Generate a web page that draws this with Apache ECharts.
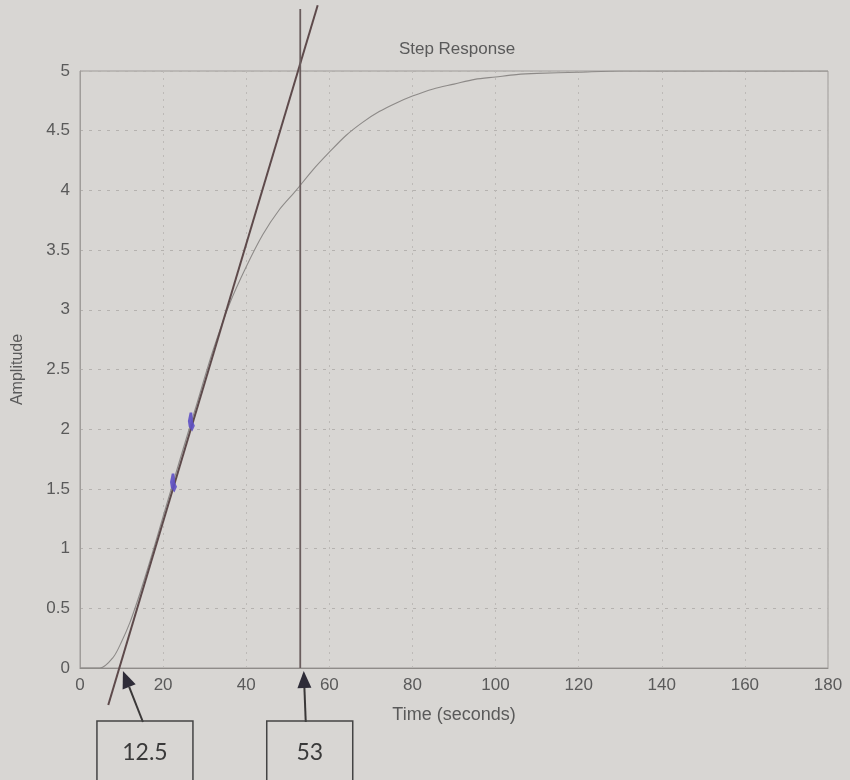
<!DOCTYPE html>
<html>
<head>
<meta charset="utf-8">
<script src="https://cdn.jsdelivr.net/npm/echarts@6/dist/echarts.min.js"></script>
<style>
html,body{margin:0;padding:0;background:#d8d6d3;}
#c{width:850px;height:780px;}
</style>
</head>
<body>
<div id="c"></div>
<script>
// ---- data ----
var timeValues = [0, 4.8, 8, 10, 12, 14, 16, 18, 20, 24, 28, 32, 36, 40, 44, 48, 52, 56, 60, 64, 68, 72, 76, 80, 85, 90, 95, 100, 105, 110, 120, 130, 140, 160, 180];
var amplitudeValues = [0, 0, 0.09, 0.22, 0.38, 0.58, 0.8, 1.03, 1.27, 1.74, 2.2, 2.66, 3.05, 3.36, 3.63, 3.84, 4.0, 4.17, 4.32, 4.46, 4.57, 4.66, 4.73, 4.79, 4.85, 4.89, 4.93, 4.95, 4.97, 4.98, 4.99, 5, 5, 5, 5];
var tangentT = [6.8, 57.2];
var tangentY = [-0.31, 5.55];
var verticalT = [53, 53];
var verticalY = [5.52, 0];
var penMarkT = [26.8, 22.5];
var penMarkY = [2.06, 1.55];
var annotValues = [12.5, 53];
var annotLabels = ['12.5', '53'];
var xTicks = {min: 0, max: 180, interval: 20};
var yTicks = {min: 0, max: 5, interval: 0.5};

// ---- layout (pixel tweaks for annotations) ----
var annotLayout = [
  {tipDx: -9, tailDx: 11, boxDx: -35, w: 96},
  {tipDx: 3.5, tailDx: 5.5, boxDx: -33.5, w: 86}
];

function zip(a, b) { return a.map(function (v, i) { return [v, b[i]]; }); }

var chart = echarts.init(document.getElementById('c'), null, {renderer: 'canvas'});
var FONT = 'Liberation Sans, Arial, sans-serif';
var tickFont = {color: '#5a5a5a', fontSize: 17, fontFamily: FONT};

chart.setOption({
  backgroundColor: '#d8d6d3',
  animation: false,
  title: {
    text: 'Step Response',
    left: 452, top: 36, textAlign: 'center',
    textStyle: {color: '#5a5a5a', fontSize: 17, fontWeight: 'normal', fontFamily: FONT}
  },
  grid: {left: 80, right: 22, top: 71, bottom: 112, show: true, borderColor: '#9e9b98', borderWidth: 1, backgroundColor: 'transparent'},
  xAxis: {
    type: 'value', min: xTicks.min, max: xTicks.max, interval: xTicks.interval,
    name: 'Time (seconds)', nameLocation: 'middle', nameGap: 38,
    nameTextStyle: {color: '#5a5a5a', fontSize: 18, fontFamily: FONT},
    axisLine: {show: true, lineStyle: {color: '#8f8c89', width: 1}},
    axisTick: {show: false},
    axisLabel: Object.assign({margin: 9}, tickFont),
    splitLine: {show: true, lineStyle: {color: '#bdbab7', type: [2, 5], width: 1}}
  },
  yAxis: {
    type: 'value', min: yTicks.min, max: yTicks.max, interval: yTicks.interval,
    name: 'Amplitude', nameLocation: 'middle', nameGap: 54, nameRotate: 90,
    nameTextStyle: {color: '#5a5a5a', fontSize: 16, fontFamily: FONT},
    axisLine: {show: true, lineStyle: {color: '#a09d9a', width: 1}},
    axisTick: {show: false},
    axisLabel: Object.assign({margin: 10}, tickFont),
    splitLine: {show: true, lineStyle: {color: '#b5b2af', type: [3, 6], width: 1}}
  },
  series: [
    {
      name: 'step', type: 'line', data: zip(timeValues, amplitudeValues),
      showSymbol: false, smooth: 0.3, clip: true,
      lineStyle: {color: '#8d8a88', width: 1.1}
    },
    {
      name: 'tangent', type: 'line', data: zip(tangentT, tangentY),
      showSymbol: false, clip: false,
      lineStyle: {color: '#5e4a4b', width: 2}
    },
    {
      name: 'vertical', type: 'line', data: zip(verticalT, verticalY),
      showSymbol: false, clip: false,
      lineStyle: {color: '#6a5d5d', width: 1.8}
    },
    {
      name: 'pen', type: 'scatter', data: zip(penMarkT, penMarkY),
      symbol: 'path://M2,0 L5,0 L6,10 L8,14 L5,20 L1,15 L0,9 Z', symbolSize: [7, 19],
      itemStyle: {color: '#5e50c4', opacity: 0.9}, clip: false, z: 3
    },
    {
      name: 'annot', type: 'custom', clip: false,
      data: annotValues.map(function (v) { return [v, 0]; }),
      renderItem: function (params, api) {
        var i = params.dataIndex;
        var L = annotLayout[i];
        var base = api.coord([api.value(0), 0]);
        var tipX = base[0] + L.tipDx, tipY = base[1] + 3;
        var tailX = base[0] + L.tailDx, tailY = base[1] + 54;
        var boxX = base[0] + L.boxDx, boxY = base[1] + 53;
        var ang = Math.atan2(tipY - tailY, tipX - tailX);
        var hl = 17, hw = 7;
        var bx = tipX - hl * Math.cos(ang), by = tipY - hl * Math.sin(ang);
        var px = -Math.sin(ang), py = Math.cos(ang);
        return {
          type: 'group',
          children: [
            {type: 'line', shape: {x1: tailX, y1: tailY, x2: bx, y2: by}, style: {stroke: '#3a3838', lineWidth: 2}},
            {type: 'polygon', shape: {points: [[tipX, tipY], [bx + px * hw, by + py * hw], [bx - px * hw, by - py * hw]]}, style: {fill: '#2e2c38'}},
            {type: 'rect', shape: {x: boxX, y: boxY, width: L.w, height: 80}, style: {fill: 'none', stroke: '#444', lineWidth: 1.5}},
            {type: 'text', style: {text: annotLabels[i], x: boxX + L.w / 2, y: boxY + 32, align: 'center', verticalAlign: 'middle', fontSize: 23, fontFamily: 'Lato, Open Sans, sans-serif', fill: '#3a3a3a'}}
          ]
        };
      }
    }
  ]
});
</script>
</body>
</html>
